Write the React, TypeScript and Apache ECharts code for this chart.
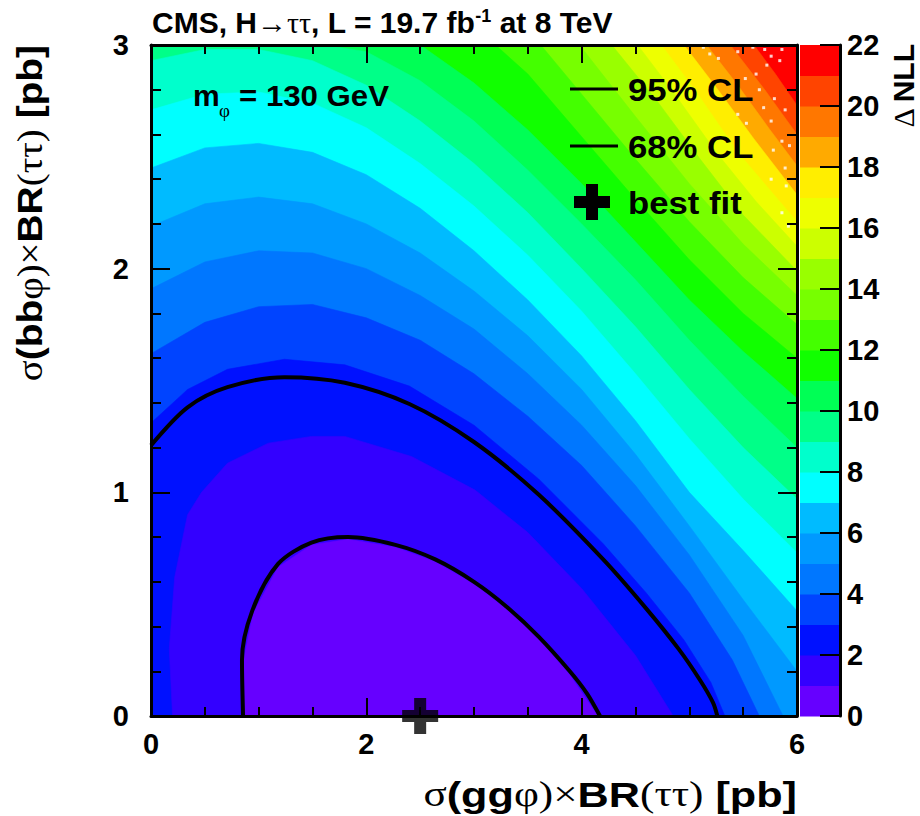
import React, { useEffect, useRef } from "react";
import * as echarts from "echarts";

// ---------------- data ----------------
const xTicks = [0, 2, 4, 6];
const yTicks = [0, 1, 2, 3];
const colorbarTicks = [0, 2, 4, 6, 8, 10, 12, 14, 16, 18, 20, 22];

// colour of each ΔNLL band [k, k+1]
const bandColors = [
  "#6600ff", "#3300ff", "#0011ff", "#0044ff", "#0077ff", "#0099ff",
  "#00bbff", "#00ffff", "#00ffcc", "#00ff88", "#00ff55", "#11ff00",
  "#44ff00", "#77ff00", "#99ff00", "#ccff00", "#eeff00", "#ffee00",
  "#ffaa00", "#ff7700", "#ff4400", "#ff0000",
];

// band boundaries ΔNLL = k (points [σ(ggφ), σ(bbφ)] in pb)
const level1 = [[0.87, 0], [0.86, 0.25], [0.95, 0.46], [1.18, 0.665], [1.49, 0.765], [1.83, 0.79], [2.27, 0.755], [2.64, 0.69], [3.0, 0.59], [3.3, 0.48], [3.6, 0.345], [3.88, 0.19], [4.15, 0]];
const level2 = [[0.2, 0], [0.17, 0.3], [0.22, 0.62], [0.34, 0.9], [0.47, 1.0], [0.71, 1.13], [1.09, 1.22], [1.49, 1.25], [1.8, 1.25], [2.42, 1.16], [3.01, 1.01], [3.5, 0.82], [4.0, 0.57], [4.5, 0.27], [4.85, 0]];
const level3 = [[0, 1.31], [0.34, 1.46], [0.71, 1.55], [1.24, 1.595], [1.8, 1.57], [2.4, 1.475], [3.0, 1.3], [3.6, 1.06], [4.2, 0.77], [4.6, 0.55], [4.95, 0.34], [5.2, 0.15], [5.33, 0]];
const level4 = [[0, 1.62], [0.5, 1.76], [1.0, 1.83], [1.5, 1.84], [2.0, 1.78], [2.5, 1.68], [3.0, 1.53], [3.5, 1.34], [4.0, 1.12], [4.5, 0.85], [5.0, 0.55], [5.4, 0.25], [5.65, 0]];
const level5 = [[0, 1.91], [0.5, 2.03], [1.0, 2.08], [1.5, 2.07], [2.0, 2.0], [2.5, 1.88], [3.0, 1.73], [3.5, 1.53], [4.0, 1.3], [4.5, 1.03], [5.0, 0.72], [5.5, 0.36], [5.87, 0]];
const level6 = [[0, 2.19], [0.5, 2.29], [1.0, 2.32], [1.5, 2.29], [2.0, 2.2], [2.5, 2.07], [3.0, 1.9], [3.5, 1.7], [4.0, 1.46], [4.5, 1.17], [5.0, 0.85], [5.5, 0.52], [6, 0.2]];
const level7 = [[0, 2.45], [0.5, 2.54], [1.0, 2.56], [1.5, 2.52], [2.0, 2.42], [2.5, 2.27], [3.0, 2.08], [3.5, 1.86], [4.0, 1.61], [4.5, 1.32], [5.0, 1.0], [5.5, 0.74], [6, 0.47]];
const level8 = [[0, 2.71], [0.5, 2.78], [1.0, 2.79], [1.5, 2.74], [2.0, 2.63], [2.5, 2.47], [3.0, 2.28], [3.5, 2.06], [4.0, 1.81], [4.5, 1.53], [5.0, 1.24], [5.5, 0.97], [6, 0.73]];
const level9 = [[0, 2.93], [0.5, 2.98], [1.0, 2.98], [1.5, 2.93], [2.0, 2.82], [2.5, 2.66], [3.0, 2.47], [3.5, 2.25], [4.0, 2.0], [4.5, 1.74], [5.0, 1.46], [5.5, 1.2], [6, 0.97]];
const level10 = [[1.6, 3], [2.0, 2.97], [2.5, 2.84], [3.0, 2.66], [3.5, 2.44], [4.0, 2.2], [4.5, 1.95], [5.0, 1.68], [5.5, 1.43], [6, 1.2]];
const level11 = [[2.5, 3], [3.0, 2.83], [3.5, 2.62], [4.0, 2.38], [4.5, 2.12], [5.0, 1.86], [5.5, 1.63], [6, 1.42]];
const level12 = [[3.2, 3], [3.5, 2.87], [4.0, 2.59], [4.5, 2.31], [5.0, 2.04], [5.5, 1.8], [6, 1.6]];
const level13 = [[3.62, 3], [4.0, 2.78], [4.5, 2.49], [5.0, 2.21], [5.5, 1.96], [6, 1.75]];
const level14 = [[3.98, 3], [4.5, 2.68], [5.0, 2.38], [5.5, 2.11], [6, 1.88]];
const level15 = [[4.28, 3], [4.7, 2.75], [5.1, 2.49], [5.5, 2.24], [6, 1.99]];
const level16 = [[4.52, 3], [4.85, 2.79], [5.25, 2.52], [5.62, 2.3], [6, 2.1]];
const level17 = [[4.74, 3], [5.05, 2.8], [5.45, 2.52], [6, 2.21]];
const level18 = [[4.95, 3], [5.25, 2.81], [5.6, 2.58], [6, 2.33]];
const level19 = [[5.16, 3], [5.45, 2.82], [5.75, 2.62], [6, 2.46]];
const level20 = [[5.38, 3], [5.7, 2.8], [6, 2.6]];
const level21 = [[5.6, 3], [5.8, 2.87], [6, 2.73]];
const levelCurves = [level1, level2, level3, level4, level5, level6, level7, level8, level9, level10, level11, level12, level13, level14, level15, level16, level17, level18, level19, level20, level21];

// confidence level contours
const contour68 = [[0.855, 0], [0.845, 0.25], [0.94, 0.47], [1.18, 0.68], [1.49, 0.775], [1.83, 0.8], [2.27, 0.765], [2.64, 0.7], [3.0, 0.6], [3.3, 0.49], [3.6, 0.355], [3.89, 0.2], [4.05, 0.1], [4.17, 0]];
const contour95 = [[0, 1.21], [0.34, 1.38], [0.71, 1.47], [1.24, 1.515], [1.8, 1.49], [2.4, 1.395], [3.0, 1.225], [3.6, 0.99], [4.2, 0.7], [4.6, 0.48], [4.9, 0.3], [5.1, 0.16], [5.22, 0.06], [5.26, 0]];
const bestFit = [2.5, 0];

// empty (white) cells of the likelihood scan in the upper-right corner
const emptyCells = [
  [5.13, 2.99], [5.19, 2.96], [5.27, 2.94], [5.45, 2.97], [5.59, 2.99], [5.7, 2.98], [5.76, 2.95],
  [5.86, 2.98], [5.84, 2.93], [5.72, 2.91], [5.62, 2.87], [5.52, 2.85], [5.65, 2.8], [5.79, 2.76],
  [5.89, 2.71], [5.69, 2.72], [5.76, 2.66], [5.86, 2.57], [5.93, 2.55], [5.78, 2.53], [5.89, 2.45],
  [5.76, 2.4], [5.9, 2.37], [5.86, 2.25], [5.92, 2.19], [5.45, 2.69], [5.53, 2.65],
];

// ---------------- styling helpers ----------------
const SANS = '"Liberation Sans", Arial, Helvetica, sans-serif';
const SERIF = '"Liberation Serif", "DejaVu Serif", serif';
const X_MIN = xTicks[0];
const X_MAX = xTicks[xTicks.length - 1];
const Y_MIN = yTicks[0];
const Y_MAX = yTicks[yTicks.length - 1];
const W = X_MAX - X_MIN;
const H = Y_MAX - Y_MIN;
const PER = 2 * W + 2 * H;
const EPS = 1e-9;

function perimeterPos(p: number[]) {
  const [x, y] = p;
  if (y >= Y_MAX - EPS) return x - X_MIN;
  if (x >= X_MAX - EPS) return W + (Y_MAX - y);
  if (y <= Y_MIN + EPS) return W + H + (X_MAX - x);
  return 2 * W + H + (y - Y_MIN);
}

function closedRegion(curve: number[][]) {
  const corners = [
    [X_MIN, Y_MAX, 0],
    [X_MAX, Y_MAX, W],
    [X_MAX, Y_MIN, W + H],
    [X_MIN, Y_MIN, 2 * W + H],
  ];
  const te = perimeterPos(curve[curve.length - 1]);
  let ts = perimeterPos(curve[0]);
  if (ts <= te) ts += PER;
  const extra: number[][] = [];
  for (const base of [0, PER]) {
    for (const c of corners) {
      const t = c[2] + base;
      if (t > te + EPS && t < ts - EPS) extra.push([c[0], c[1], t]);
    }
  }
  extra.sort((a, b) => a[2] - b[2]);
  return curve.concat(extra.map((e) => [e[0], e[1]]));
}

const frameLine = { show: true, onZero: false, lineStyle: { color: "#000", width: 3 } };
const tickLabel = { color: "#000", fontSize: 29, fontWeight: "bold", fontFamily: SANS };

function xAxisDef(position: string, showLabel: boolean) {
  return {
    gridIndex: 0,
    type: "value",
    position,
    min: X_MIN,
    max: X_MAX,
    interval: xTicks[1] - xTicks[0],
    axisLine: frameLine,
    axisTick: { show: true, inside: true, length: 18, lineStyle: { color: "#000", width: 2 } },
    minorTick: { show: true, splitNumber: 4, length: 9, lineStyle: { color: "#000", width: 2 } },
    axisLabel: { show: showLabel, margin: 13, ...tickLabel },
    splitLine: { show: false },
    minorSplitLine: { show: false },
    z: 10,
  };
}

function yAxisDef(position: string, showLabel: boolean) {
  return {
    gridIndex: 0,
    type: "value",
    position,
    min: Y_MIN,
    max: Y_MAX,
    interval: yTicks[1] - yTicks[0],
    axisLine: frameLine,
    axisTick: { show: true, inside: true, length: 19, lineStyle: { color: "#000", width: 2 } },
    minorTick: { show: true, splitNumber: 5, length: 10, lineStyle: { color: "#000", width: 2 } },
    axisLabel: { show: showLabel, margin: 22, ...tickLabel },
    splitLine: { show: false },
    minorSplitLine: { show: false },
    z: 10,
  };
}

const plusPath = "path://M-1,-3 L1,-3 L1,-1 L3,-1 L3,1 L1,1 L1,3 L-1,3 L-1,1 L-3,1 L-3,-1 L-1,-1 Z";

const axisTitleRich = {
  b: { fontSize: 36, fontWeight: "bold", fontFamily: SANS, fill: "#000" },
  g: { fontSize: 36, fontFamily: SERIF, fill: "#000" },
};

function legendText(text: string, y: number) {
  return {
    type: "text",
    x: 628,
    y,
    z: 100,
    scaleX: 1.12,
    style: { text, font: `bold 31px ${SANS}`, fill: "#000", verticalAlign: "middle" },
  };
}

export default function App() {
  const ref = useRef<HTMLDivElement>(null);

  useEffect(() => {
    if (!ref.current) return;
    const chart = echarts.init(ref.current, null, { renderer: "svg" });

    const drawOrder = levelCurves.map((_, k) => k).reverse();

    const option: any = {
      animation: false,
      backgroundColor: "#fff",
      grid: [
        { left: 151, top: 45, width: 646, height: 671, show: true, backgroundColor: bandColors[21], borderWidth: 0 },
        { left: 800, top: 45, width: 40, height: 671, show: false },
      ],
      xAxis: [
        xAxisDef("bottom", true),
        xAxisDef("top", false),
        { gridIndex: 1, type: "value", min: 0, max: 1, show: false },
      ],
      yAxis: [
        yAxisDef("left", true),
        yAxisDef("right", false),
        {
          gridIndex: 1,
          type: "value",
          position: "right",
          min: colorbarTicks[0],
          max: colorbarTicks[colorbarTicks.length - 1],
          interval: colorbarTicks[1] - colorbarTicks[0],
          axisLine: { show: true, onZero: false, lineStyle: { color: "#000", width: 3 } },
          axisTick: { show: true, inside: true, length: 20, lineStyle: { color: "#000", width: 2 } },
          axisLabel: { show: true, margin: 7, ...tickLabel },
          splitLine: { show: false },
          z: 10,
        },
      ],
      series: [
        {
          type: "custom",
          name: "bands",
          xAxisIndex: 0,
          yAxisIndex: 0,
          silent: true,
          encode: { x: 0, y: 1 },
          data: drawOrder.map((k) => [bestFit[0], bestFit[1], k]),
          renderItem: (params: any, api: any) => {
            const k = api.value(2);
            const pts = closedRegion(levelCurves[k]).map((p) => api.coord(p));
            return {
              type: "polygon",
              z2: 21 - k,
              shape: { points: pts },
              style: { fill: bandColors[k], stroke: bandColors[k], lineWidth: 0.6 },
            };
          },
          z: 1,
        },
        {
          type: "scatter",
          name: "empty cells",
          xAxisIndex: 0,
          yAxisIndex: 0,
          data: emptyCells,
          symbol: "rect",
          symbolSize: 3,
          itemStyle: { color: "#ffffff" },
          silent: true,
          z: 3,
        },
        {
          type: "line",
          name: "95% CL",
          xAxisIndex: 0,
          yAxisIndex: 0,
          data: contour95,
          smooth: 0.3,
          symbol: "none",
          lineStyle: { color: "#000", width: 4 },
          z: 5,
        },
        {
          type: "line",
          name: "68% CL",
          xAxisIndex: 0,
          yAxisIndex: 0,
          data: contour68,
          smooth: 0.3,
          symbol: "none",
          lineStyle: { color: "#000", width: 4 },
          z: 5,
        },
        {
          type: "scatter",
          name: "best fit",
          xAxisIndex: 0,
          yAxisIndex: 0,
          data: [bestFit],
          symbol: plusPath,
          symbolSize: 36,
          itemStyle: { color: "#000" },
          clip: false,
          z: 20,
        },
        {
          type: "custom",
          name: "colorbar",
          xAxisIndex: 2,
          yAxisIndex: 2,
          silent: true,
          encode: { x: 0, y: 1 },
          data: bandColors.map((_, k) => [0.5, k + 0.5, k]),
          renderItem: (params: any, api: any) => {
            const k = api.value(2);
            const p0 = api.coord([0, k]);
            const p1 = api.coord([1, k + 1]);
            return {
              type: "rect",
              shape: { x: p0[0], y: p1[1], width: p1[0] - p0[0], height: p0[1] - p1[1] + 0.5 },
              style: { fill: bandColors[k] },
            };
          },
          z: 1,
        },
      ],
      graphic: [
        {
          type: "text",
          x: 152,
          y: 22,
          z: 100,
          style: {
            text: "{a|CMS, H}{g|→ττ}{a|, L = 19.7 fb}{s|-1}{a| at 8 TeV}",
            verticalAlign: "middle",
            fill: "#000",
            rich: {
              a: { fontSize: 30, fontWeight: "bold", fontFamily: SANS, fill: "#000" },
              g: { fontSize: 30, fontFamily: SERIF, fill: "#000" },
              s: { fontSize: 18, fontWeight: "bold", fontFamily: SANS, fill: "#000", verticalAlign: "top" },
            },
          },
        },
        { type: "text", x: 193, y: 95, z: 100, style: { text: "m", font: `bold 30px ${SANS}`, fill: "#000", verticalAlign: "middle" } },
        { type: "text", x: 219, y: 110, z: 100, style: { text: "φ", font: `19px ${SERIF}`, fill: "#000", verticalAlign: "middle" } },
        { type: "text", x: 239, y: 95, z: 100, scaleX: 1.04, style: { text: "= 130 GeV", font: `bold 30px ${SANS}`, fill: "#000", verticalAlign: "middle" } },
        { type: "line", z: 100, shape: { x1: 570, y1: 89, x2: 618, y2: 89 }, style: { stroke: "#000", lineWidth: 3 } },
        legendText("95% CL", 90),
        { type: "line", z: 100, shape: { x1: 570, y1: 146, x2: 618, y2: 146 }, style: { stroke: "#000", lineWidth: 3 } },
        legendText("68% CL", 147),
        { type: "rect", z: 100, shape: { x: 574, y: 196, width: 36, height: 12 }, style: { fill: "#000" } },
        { type: "rect", z: 100, shape: { x: 586, y: 184, width: 12, height: 36 }, style: { fill: "#000" } },
        legendText("best fit", 203),
        {
          type: "text",
          x: 797,
          y: 794,
          z: 100,
          scaleX: 1.2,
          style: {
            text: "{g|σ}{b|(gg}{g|φ)×}{b|BR}{g|(ττ)}{b| [pb]}",
            align: "right",
            verticalAlign: "middle",
            rich: axisTitleRich,
          },
        },
        {
          type: "text",
          x: 30,
          y: 45,
          rotation: Math.PI / 2,
          scaleX: 1.08,
          z: 100,
          style: {
            text: "{g|σ}{b|(bb}{g|φ)×}{b|BR}{g|(ττ)}{b| [pb]}",
            align: "right",
            verticalAlign: "middle",
            rich: axisTitleRich,
          },
        },
        {
          type: "text",
          x: 903,
          y: 44,
          rotation: Math.PI / 2,
          z: 100,
          style: {
            text: "{g|Δ }{b|NLL}",
            align: "right",
            verticalAlign: "middle",
            rich: {
              b: { fontSize: 30, fontWeight: "bold", fontFamily: SANS, fill: "#000" },
              g: { fontSize: 30, fontFamily: SERIF, fill: "#000" },
            },
          },
        },
      ],
    };

    chart.setOption(option);
    return () => chart.dispose();
  }, []);

  return <div ref={ref} style={{ position: "absolute", left: 0, top: 0, width: 920, height: 816 }} />;
}
